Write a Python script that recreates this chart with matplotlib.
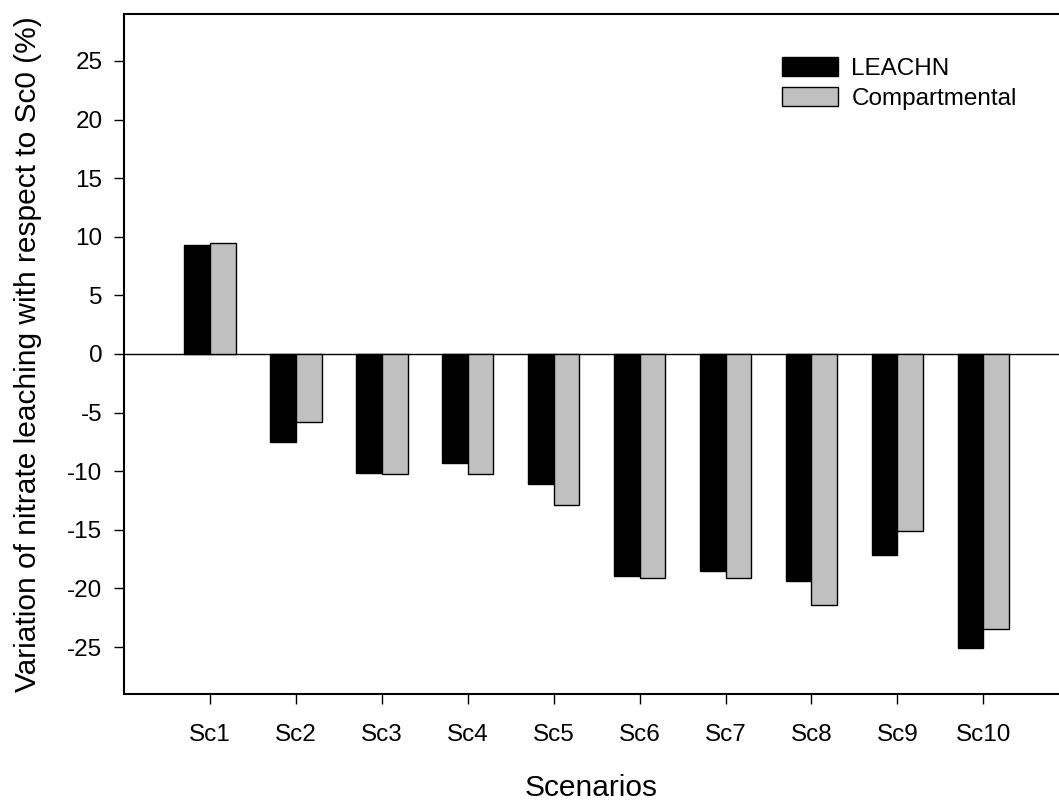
import matplotlib
matplotlib.use("Agg")
import matplotlib.pyplot as plt
from matplotlib.patches import Patch
import numpy as np

scenarios = ["Sc1", "Sc2", "Sc3", "Sc4", "Sc5", "Sc6", "Sc7", "Sc8", "Sc9", "Sc10"]
leachn = [9.26, -7.50, -10.15, -9.30, -11.08, -18.96, -18.47, -19.38, -17.17, -25.07]
compartmental = [9.46, -5.83, -10.20, -10.20, -12.90, -19.10, -19.10, -21.43, -15.12, -23.42]
yticks = [-25, -20, -15, -10, -5, 0, 5, 10, 15, 20, 25]

plt.rcParams["font.family"] = ["Liberation Sans", "DejaVu Sans"]
tick_fs = 17.5
label_fs = 21.5

W, H = 1059, 802
fig = plt.figure(figsize=(W / 100, H / 100), dpi=100)
ax = fig.add_axes([124 / W, (H - 694) / H, (W - 124) / W, (694 - 14) / H])

x = np.arange(1, len(scenarios) + 1)
bw = 0.3
ax.bar(x - bw / 2, leachn, width=bw, color="black", edgecolor="black", linewidth=1.0)
ax.bar(x + bw / 2, compartmental, width=bw, color="#c0c0c0", edgecolor="black", linewidth=1.0)
ax.axhline(0, color="black", linewidth=1.0, zorder=0.5)

ax.set_xlim(0, (W - 124) / 85.93)
ax.set_ylim(-29, 29)
ax.set_xticks(x)
ax.set_xticklabels(scenarios)
ax.set_yticks(yticks)
ax.set_yticklabels([str(v) for v in yticks])
ax.tick_params(direction="out", length=7.5, width=1.0, colors="black",
               labelsize=tick_fs)
ax.tick_params(axis="y", pad=8)
ax.tick_params(axis="x", pad=14)

for side in ("top", "bottom", "left"):
    ax.spines[side].set_linewidth(1.5)
ax.spines["right"].set_visible(False)

ax.set_xlabel("Scenarios", fontsize=label_fs, labelpad=20)
ax.set_ylabel("Variation of nitrate leaching with respect to Sc0 (%)",
              fontsize=label_fs, labelpad=18)

handles = [Patch(facecolor="black", edgecolor="black", linewidth=1.0),
           Patch(facecolor="#c0c0c0", edgecolor="black", linewidth=1.0)]
fig.legend(handles, ["LEACHN", "Compartmental"], loc="upper left",
           bbox_to_anchor=(782 / W, 1 - 57 / H), frameon=False, fontsize=tick_fs,
           handlelength=2.3, handleheight=0.82, handletextpad=0.55,
           labelspacing=0.3, borderpad=0, borderaxespad=0)

fig.savefig("out.png", dpi=100)
